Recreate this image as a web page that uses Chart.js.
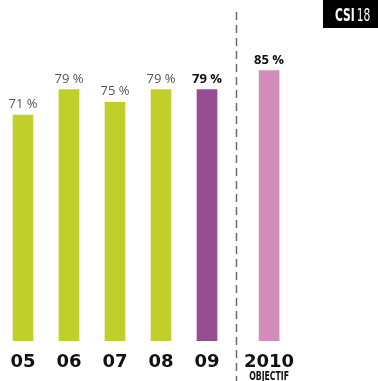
<!DOCTYPE html>
<html>
<head>
<meta charset="utf-8">
<script src="https://cdn.jsdelivr.net/npm/chart.js@4/dist/chart.umd.min.js"></script>
<style>
  html, body { margin: 0; padding: 0; background: #fff; }
  #wrap { position: relative; width: 378px; height: 381px; }
</style>
</head>
<body>
<div id="wrap"><canvas id="csi-chart"></canvas></div>
<script>
// Chart values
const years = ['05', '06', '07', '08', '09', '2010'];
const rates = [71, 79, 75, 79, 79, 85];
const yearNotes = ['', '', '', '', '', 'OBJECTIF'];
const barColors = ['#c0cf2b', '#c0cf2b', '#c0cf2b', '#c0cf2b', '#984c92', '#d18cb9'];
const boldLabels = [false, false, false, false, true, true];
const badgeText = ['CSI', '18'];

// the objective bar sits a little further right, past the dashed separator
const objectiveGap = 0.35;
const dividerAt = 4.63;

function xFor(index) {
    return index < years.length - 1 ? index : index + objectiveGap;
}

// draw text squeezed horizontally (no condensed font installed)
function narrowText(ctx, text, x, y, squeeze) {
    ctx.save();
    ctx.translate(x, y);
    ctx.scale(squeeze, 1);
    ctx.fillText(text, 0, 0);
    ctx.restore();
}

const labelPlugin = {
    id: 'csiLabels',
    afterDatasetsDraw(chart) {
        const ctx = chart.ctx;
        const xs = chart.scales.x;
        const ys = chart.scales.y;
        ctx.save();

        // dashed separator
        const dx = Math.round(xs.getPixelForValue(dividerAt)) + 0.5;
        ctx.strokeStyle = '#6b6b6b';
        ctx.lineWidth = 1.5;
        ctx.setLineDash([8, 5]);
        ctx.beginPath();
        ctx.moveTo(dx, 12);
        ctx.lineTo(dx, chart.height);
        ctx.stroke();
        ctx.setLineDash([]);

        // value labels and year labels
        ctx.textAlign = 'center';
        ctx.textBaseline = 'alphabetic';
        rates.forEach((v, i) => {
            const px = xs.getPixelForValue(xFor(i));
            const py = ys.getPixelForValue(v);
            if (boldLabels[i]) {
                ctx.font = 'bold 13px "Open Sans", sans-serif';
                ctx.fillStyle = '#111';
            } else {
                ctx.font = '13px "Open Sans", sans-serif';
                ctx.fillStyle = '#555';
            }
            ctx.fillText(v + ' %', px, py - 7);

            ctx.font = 'bold 18px "DejaVu Sans", sans-serif';
            ctx.fillStyle = '#111';
            ctx.fillText(years[i], px, 367);
            if (yearNotes[i]) {
                ctx.font = 'bold 12px "DejaVu Sans Condensed", sans-serif';
                narrowText(ctx, yearNotes[i], px, 380, 0.72);
            }
        });

        // corner badge
        ctx.fillStyle = '#000';
        ctx.fillRect(323, 0, chart.width - 323, 28);
        ctx.fillStyle = '#fff';
        ctx.textAlign = 'left';
        ctx.font = 'bold 17px "DejaVu Sans Condensed", sans-serif';
        const w = ctx.measureText(badgeText[0]).width * 0.7;
        narrowText(ctx, badgeText[0], 335, 21, 0.7);
        ctx.font = '17px "DejaVu Sans Condensed", sans-serif';
        narrowText(ctx, badgeText[1], 335 + w + 2, 21, 0.7);

        ctx.restore();
    }
};

function initializeChart() {
    const ctx = document.getElementById('csi-chart').getContext('2d');
    new Chart(ctx, {
        type: 'bar',
        data: {
            datasets: [{
                data: rates.map((v, i) => ({ x: xFor(i), y: v })),
                backgroundColor: barColors,
                borderWidth: 0,
                barThickness: 20
            }]
        },
        options: {
            responsive: true,
            maintainAspectRatio: false,
            animation: false,
            layout: { padding: { top: 0, left: 0, right: 0, bottom: 40 } },
            scales: {
                x: {
                    type: 'linear',
                    display: false,
                    offset: false,
                    min: -0.5,
                    max: -0.5 + 378 / 46
                },
                y: {
                    display: false,
                    min: 0,
                    max: 107.2
                }
            },
            plugins: {
                legend: { display: false },
                tooltip: { enabled: false }
            }
        },
        plugins: [labelPlugin]
    });
}

document.addEventListener('DOMContentLoaded', initializeChart);
</script>
</body>
</html>
